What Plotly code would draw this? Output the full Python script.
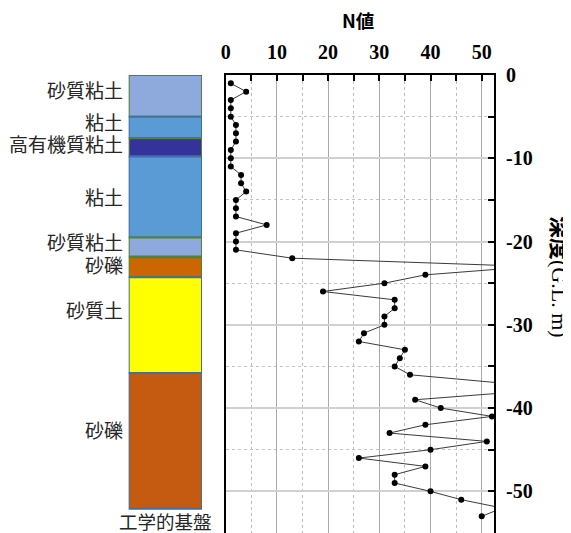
import plotly.graph_objects as go

# ---- data ----
depths = [-d for d in range(1, 54)]
n_values = [1, 4, 1, 1, 1, 2, 2, 2, 1, 1,
            1, 3, 3, 4, 2, 2, 2, 8, 2, 2,
            2, 13, 60, 39, 31, 19, 33, 33, 31, 31,
            27, 26, 35, 34, 33, 36, 54, 58, 37, 42,
            52, 39, 32, 51, 40, 26, 39, 33, 33, 40,
            46, 54, 50]

layer_names = ["砂質粘土", "粘土", "高有機質粘土", "粘土", "砂質粘土", "砂礫", "砂質土", "砂礫"]
layer_tops = [0.0, 5.0, 7.6, 9.8, 19.5, 21.9, 24.3, 35.8]
layer_bottoms = [5.0, 7.6, 9.8, 19.5, 21.8, 24.3, 35.8, 52.1]
layer_colors = ["#8EA9DB", "#5B9BD5", "#333399", "#5B9BD5", "#8EA9DB", "#CC6600", "#FFFF00", "#C55A11"]
layer_borders = ["#548235", "#41719C", "#548235", "#41719C", "#548235", "#548235", "#41719C", "#41719C"]
label_depths = [-1.8, -5.6, -8.2, -14.6, -20.0, -22.8, -28.2, -42.6]
base_label = "工学的基盤"

x_ticks = [0, 10, 20, 30, 40, 50]
y_ticks = [0, -10, -20, -30, -40, -50]

# page body has an 8px margin; figure sized to fill the rest of the window
OFF = 8
W, H = 571 - OFF, 533 - OFF

def px(x):
    return (x - OFF) / W

def py(y):
    return 1 - (y - OFF) / H

fig = go.Figure()

fig.add_trace(go.Bar(
    x=[0] * len(layer_names),
    base=[-b for b in layer_bottoms],
    y=[b - t for t, b in zip(layer_tops, layer_bottoms)],
    width=1,
    marker=dict(color=layer_colors, line=dict(color=layer_borders, width=2)),
    xaxis="x2", yaxis="y",
    hoverinfo="skip", showlegend=False,
))

fig.add_trace(go.Scatter(
    x=n_values, y=depths, mode="lines+markers",
    line=dict(color="#3a3a3a", width=1),
    marker=dict(color="black", size=6),
    xaxis="x", yaxis="y", showlegend=False,
))

tickfont = dict(family="Liberation Serif", size=20, color="black", weight="bold")

fig.update_layout(
    template="none",
    width=W, height=H, autosize=False,
    margin=dict(l=0, r=0, t=0, b=0, pad=0),
    paper_bgcolor="white", plot_bgcolor="white",
    barmode="overlay",
    xaxis=dict(
        domain=[px(225.7), px(494.0)], range=[0, 52.4], side="top", anchor="y",
        automargin=False,
        tickvals=x_ticks, ticktext=[str(v) for v in x_ticks],
        tickfont=tickfont, ticks="inside", ticklen=6, tickcolor="black", tickwidth=1.5,
        showline=True, linecolor="black", linewidth=2, mirror=True,
        showgrid=True, gridcolor="#aaaaaa", gridwidth=1,
        minor=dict(dtick=5, tick0=0, ticks="inside", ticklen=6, tickcolor="black",
                   showgrid=True, gridcolor="#bdbdbd", griddash="dot", gridwidth=1),
        zeroline=False, ticklabelstandoff=6,
    ),
    xaxis2=dict(
        domain=[px(128.7), px(202.0)], range=[-0.5, 0.5], anchor="y",
        visible=False, showgrid=False, zeroline=False, automargin=False,
    ),
    yaxis=dict(
        domain=[0, py(75.0)], range=[-55, 0], side="right", anchor="x",
        automargin=False,
        tickvals=y_ticks, ticktext=[str(v) for v in y_ticks],
        tickfont=tickfont, ticks="inside", ticklen=6, tickcolor="black", tickwidth=1.5,
        showline=True, linecolor="black", linewidth=2, mirror=True,
        showgrid=True, gridcolor="#d0d0d0", gridwidth=1.5,
        minor=dict(dtick=5, tick0=0, ticks="inside", ticklen=6, tickcolor="black",
                   showgrid=True, gridcolor="#c4c4c4", griddash="dot", gridwidth=1),
        zeroline=False, ticklabelstandoff=6,
    ),
)

annotations = []
for name, yd in zip(layer_names, label_depths):
    annotations.append(dict(
        text=name, xref="paper", yref="y", x=px(125), y=yd,
        xanchor="right", yanchor="middle", showarrow=False,
        font=dict(family="Noto Sans CJK JP", size=19, color="#262626"),
    ))
annotations.append(dict(
    text=base_label, xref="paper", yref="paper", x=px(165), y=py(521),
    xanchor="center", yanchor="middle", showarrow=False,
    font=dict(family="Noto Sans CJK JP", size=18.5, color="#262626"),
))
annotations.append(dict(
    text="<b>N値</b>", xref="paper", yref="paper", x=px(358), y=py(20),
    xanchor="center", yanchor="middle", showarrow=False,
    font=dict(family="Noto Sans CJK JP", size=18.5, color="black"),
))
annotations.append(dict(
    text="<b>深度</b>(G.L. m)", xref="paper", yref="paper", x=px(560), y=py(277),
    xanchor="center", yanchor="middle", showarrow=False, textangle=90,
    font=dict(family="Liberation Serif, Noto Sans CJK JP", size=22, color="black"),
))
fig.update_layout(annotations=annotations)

fig.write_html("out.html")
